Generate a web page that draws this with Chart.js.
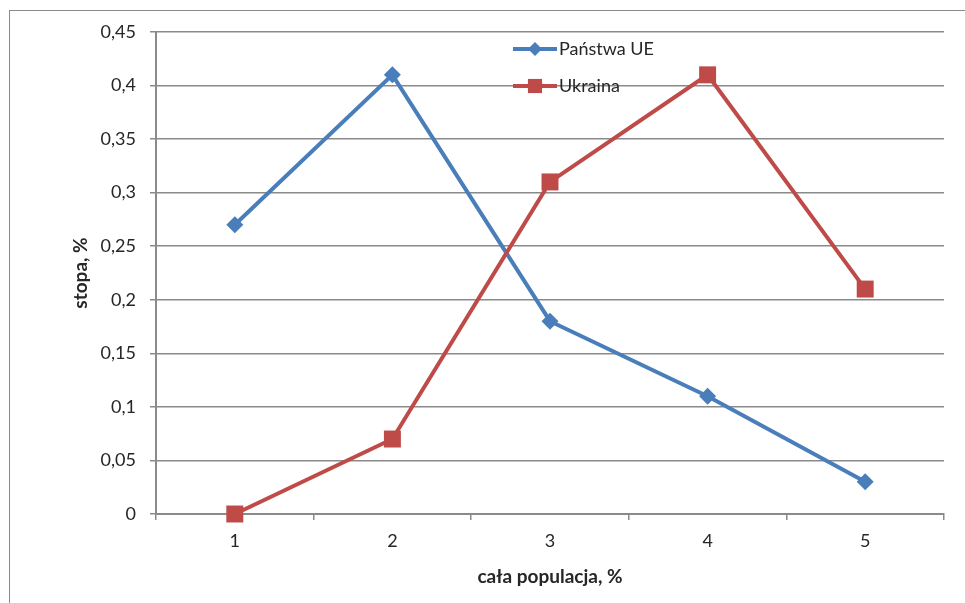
<!DOCTYPE html>
<html>
<head>
<meta charset="utf-8">
<script src="https://cdn.jsdelivr.net/npm/chart.js@4.4.1/dist/chart.umd.min.js"></script>
<style>
  html, body { margin: 0; padding: 0; background: #fff; }
  #wrap { position: relative; width: 965px; height: 603px; overflow: hidden; }
  #frame { position: absolute; left: 9px; top: 10px; right: -5px; bottom: -5px;
           border-left: 1.5px solid #8a8a8a; border-top: 1.5px solid #8a8a8a; }
  #c { position: absolute; left: 0; top: 0; }
</style>
</head>
<body>
<div id="wrap">
  <div id="frame"></div>
  <canvas id="c" width="965" height="603"></canvas>
</div>
<script>
// Categories and series
const categories = ['1', '2', '3', '4', '5'];
const seriesNames = ['Państwa UE', 'Ukraina'];
const valuesUE = [0.27, 0.41, 0.18, 0.11, 0.03];
const valuesUkraina = [0, 0.07, 0.31, 0.41, 0.21];
const yTitle = 'stopa, %';
const xTitle = 'cała populacja, %';

const BLUE = '#4A7EBB';
const RED = '#BE4B48';
const GRID = '#8a8a8a';
const TEXT = '#262626';
const FONT = 'Lato, "Open Sans", sans-serif';

const fmt = v => String(Math.round(v * 100) / 100).replace('.', ',');

// Legend placed inside the plot area, near the top centre
const insideLegend = {
  id: 'insideLegend',
  afterDatasetsDraw(chart) {
    const ctx = chart.ctx;
    const x0 = 513, x1 = 557;
    const rows = [49, 86];
    const sizes = [7, 10];
    chart.data.datasets.forEach((ds, i) => {
      const y = rows[i];
      ctx.save();
      ctx.strokeStyle = ds.borderColor;
      ctx.lineWidth = ds.borderWidth;
      ctx.beginPath();
      ctx.moveTo(x0, y);
      ctx.lineTo(x1, y);
      ctx.stroke();
      ctx.fillStyle = ds.backgroundColor;
      ctx.strokeStyle = ds.borderColor;
      Chart.helpers.drawPoint(ctx, {
        pointStyle: ds.pointStyle,
        radius: sizes[i],
        borderWidth: 0,
        rotation: 0
      }, (x0 + x1) / 2, y);
      ctx.fillStyle = TEXT;
      ctx.font = '18px ' + FONT;
      ctx.textBaseline = 'middle';
      ctx.textAlign = 'left';
      ctx.fillText(ds.label, x1 + 2, y);
      ctx.restore();
    });
  }
};

new Chart(document.getElementById('c'), {
  type: 'line',
  data: {
    labels: categories,
    datasets: [
      {
        label: seriesNames[0],
        data: valuesUE,
        borderColor: BLUE,
        backgroundColor: BLUE,
        borderWidth: 4,
        pointStyle: 'rectRot',
        pointRadius: 8.5,
        pointHoverRadius: 8.5,
        pointBorderWidth: 0,
        tension: 0,
        clip: false,
        order: 2
      },
      {
        label: seriesNames[1],
        data: valuesUkraina,
        borderColor: RED,
        backgroundColor: RED,
        borderWidth: 4,
        pointStyle: 'rect',
        pointRadius: 12,
        pointHoverRadius: 12,
        pointBorderWidth: 0,
        tension: 0,
        clip: false,
        order: 1
      }
    ]
  },
  options: {
    responsive: false,
    animation: false,
    events: [],
    layout: { padding: { left: 0, right: 21, top: 32, bottom: 0 } },
    plugins: {
      legend: { display: false },
      tooltip: { enabled: false },
      title: { display: false }
    },
    scales: {
      x: {
        type: 'category',
        offset: true,
        afterFit(scale) { scale.height = 89; },
        grid: {
          offset: true,
          drawOnChartArea: false,
          drawTicks: true,
          tickLength: 6,
          color: GRID,
          lineWidth: 1.5
        },
        border: { color: GRID, width: 2 },
        ticks: {
          color: TEXT,
          font: { family: FONT, size: 18 },
          padding: 10,
          maxRotation: 0
        },
        title: {
          display: true,
          text: xTitle,
          color: TEXT,
          font: { family: FONT, size: 19, weight: 'bold' },
          padding: { top: 0, bottom: 15 }
        }
      },
      y: {
        min: 0,
        max: 0.45,
        afterFit(scale) { scale.width = 156; },
        afterBuildTicks(scale) {
          const t = [];
          for (let i = 0; i <= 9; i++) t.push({ value: Math.round(i * 5) / 100 });
          scale.ticks = t;
        },
        grid: {
          color: GRID,
          lineWidth: 1.5,
          drawTicks: true,
          tickLength: 6
        },
        border: { color: GRID, width: 2 },
        ticks: {
          color: TEXT,
          font: { family: FONT, size: 18 },
          padding: 14,
          callback: v => fmt(v)
        },
        title: {
          display: true,
          text: yTitle,
          color: TEXT,
          font: { family: FONT, size: 19, weight: 'bold' },
          padding: { top: 69, bottom: 0 }
        }
      }
    }
  },
  plugins: [insideLegend]
});
</script>
</body>
</html>
